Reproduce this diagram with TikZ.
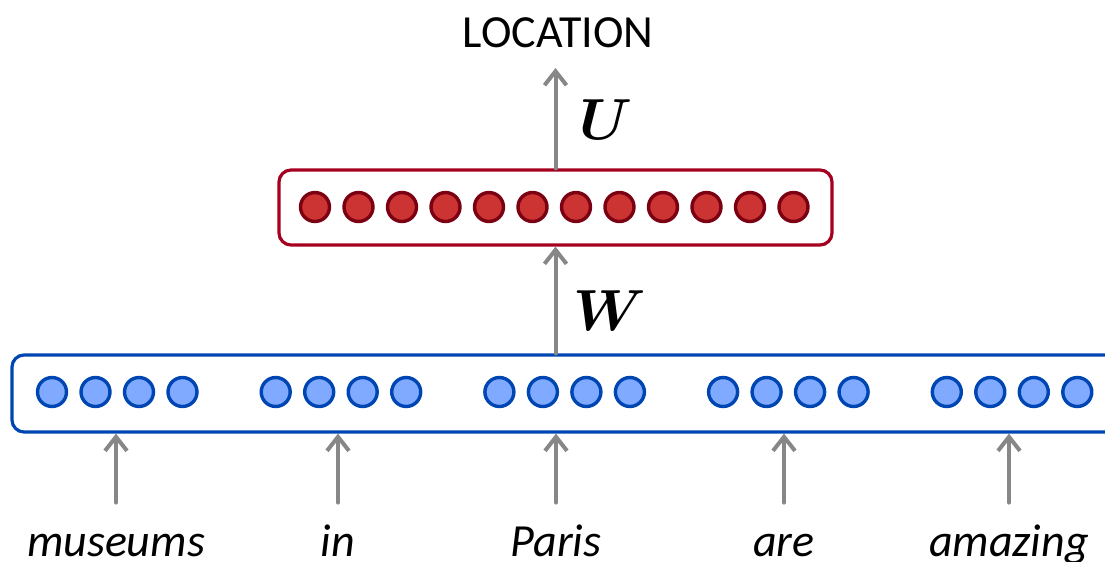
\documentclass[tikz,border=0pt]{standalone}
\usepackage{fix-cm}
\usepackage{amsmath,bm}
\usepackage{fontspec}
\setmainfont{Carlito}
\usetikzlibrary{arrows.meta}
\definecolor{redline}{RGB}{166,0,32}
\definecolor{redfill}{RGB}{204,51,51}
\definecolor{reddark}{RGB}{122,0,18}
\definecolor{blueline}{RGB}{0,70,178}
\definecolor{bluefill}{RGB}{128,170,255}
\definecolor{arrowgray}{RGB}{135,135,135}

\begin{document}
\begin{tikzpicture}[x=0.5pt,y=-0.5pt,line cap=round,line join=round,
		redunit/.style={circle,draw=reddark,fill=redfill,line width=1.7pt,minimum size=14.5pt,inner sep=0pt},
		blueunit/.style={circle,draw=blueline,fill=bluefill,line width=1.7pt,minimum size=14.5pt,inner sep=0pt},
		layer/.style={rectangle,rounded corners=6pt,line width=1.6pt,inner sep=0pt},
		word/.style={font=\fontsize{23}{28}\selectfont\itshape,anchor=base,inner sep=0pt,text height=16pt},
		weight/.style={font=\fontsize{29}{32}\selectfont,anchor=base west,inner sep=0pt},
		arr/.style={-{Straight Barb[length=7pt,width=11pt]},draw=arrowgray,line width=2pt}]
		\useasboundingbox (0,0) rectangle (1105,562);
		\clip (0,0) rectangle (1105,562);
		% layers
		\node[layer,draw=redline,minimum width=276.5pt,minimum height=37.5pt] (red) at (555.5,207.5) {};
		\node[layer,draw=blueline,minimum width=559pt,minimum height=38.5pt] (blue) at (571,393.5) {};
		\foreach \i in {1,...,12}
			\node[redunit] (r\i) at ({315+43.5*(\i-1)},207) {};
		\foreach \g in {1,...,5}
			\foreach \k in {1,...,4}
				\node[blueunit] (b\g-\k) at ({52+223.7*(\g-1)+43.5*(\k-1)},392) {};
		% words
		\node[word] (museums) at (116,556) {museums};
		\node[word] (in) at (338,556) {in};
		\node[word] (paris) at (556,556) {Paris};
		\node[word] (are) at (784,556) {are};
		\node[word] (amazing) at (1009,556) {amazing};
		\foreach \w in {museums,in,paris,are,amazing}
			\draw[arr] ([yshift=10.5pt]\w.north) -- (\w |- blue.south);
		% output
		\node[font=\fontsize{23}{28}\selectfont,anchor=base,inner sep=0pt] (loc) at (558,47) {LOCATION};
		\coordinate (top) at (555.5,68);
		\draw[arr] (blue.north -| red.south) -- (red.south);
		\draw[arr] (red.north) -- (top);
		\node[weight] (w) at (573,330) {$\bm{W}$};
		\node[weight] (u) at (579,140) {$\bm{U}$};
	\end{tikzpicture}
\end{document}
